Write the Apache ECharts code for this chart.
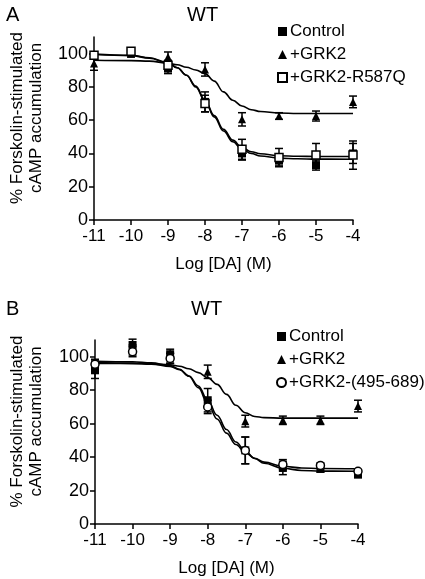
<!DOCTYPE html>
<html><head><meta charset="utf-8">
<script src="https://cdn.jsdelivr.net/npm/echarts@6/dist/echarts.min.js"></script>
<style>html,body{margin:0;padding:0;background:#fff}#c{width:425px;height:579px}</style>
</head><body><div id="c"></div>
<script>
// ---------- data ----------
const xDoses = [-11, -10, -9, -8, -7, -6, -5, -4];
const yTicks = [0, 20, 40, 60, 80, 100];
const xTicks = [-11, -10, -9, -8, -7, -6, -5, -4];

// Panel A (WT)
const ctrlA = [99, 101, 91, 71, 40, 36, 33, 40];
const ctrlAErr = [2, 1.5, 3, 6, 4, 3, 3, 6];
const grkA = [94, 100, 98, 90.5, 60.5, 62.5, 62.5, 71];
const grkAErr = [4, 2, 3, 4, 4, 2, 3, 3.5];
const mutA = [99, 101.5, 93, 70, 42.5, 37.5, 39, 39];
const mutAErr = [2, 1.5, 3, 5, 6, 5.5, 7, 8.5];

// Panel B (WT)
const ctrlB = [92, 107, 101.5, 74, 44, 33.5, 33, 29.5];
const ctrlBErr = [5, 3.5, 3, 7, 8, 4, 2, 1];
const grkB = [94, 104, 99, 91, 61.5, 62, 62, 70.5];
const grkBErr = [4, 3, 3, 4, 3.5, 2.5, 2.5, 3.5];
const circB = [95.5, 103, 99, 70, 44, 35.5, 35, 31.5];
const circBErr = [3, 3, 3, 4, 8, 3, 1.5, 1];

// Fitted curves
const xFit = [-11, -10, -9.5, -9, -8.75, -8.5, -8.25, -8, -7.75, -7.5, -7.25, -7, -6.75, -6.5, -6, -5.5, -5, -4];
const ctrlFitA = [99.8, 99, 97.5, 94.5, 91.5, 87, 80, 71.5, 62, 53.5, 47, 42.5, 40, 38.5, 37.2, 36.8, 36.6, 36.5];
const mutFitA  = [99.5, 98.8, 97.3, 94.3, 91.5, 87, 80.5, 72, 62.8, 54.5, 48, 43.5, 41, 39.8, 38.6, 38.3, 38.2, 38.2];
const grkFitA  = [96, 95.8, 95.5, 94.3, 93.3, 91.8, 90.2, 88, 83.5, 77, 72, 68.5, 66.3, 65.2, 64.3, 64, 64, 64];
const ctrlFitB = [96.5, 96.2, 95.6, 94.2, 92.2, 88.5, 82.5, 74, 65, 56.5, 49, 43.5, 39.2, 36.3, 33.3, 32, 31.6, 31.5];
const circFitB = [97.3, 97, 96.3, 94.8, 92.5, 88.3, 81.5, 72, 62.8, 54.3, 47.5, 42.8, 39.3, 37, 34.5, 33.5, 33.2, 33];
const grkFitB  = [96, 95.9, 95.7, 95.2, 94.3, 92.8, 90.5, 87.5, 83.5, 77.5, 71, 66.5, 64.3, 63.6, 63.3, 63.3, 63.3, 63.3];

const legendA = ['Control', '+GRK2', '+GRK2-R587Q'];
const legendB = ['Control', '+GRK2', '+GRK2-(495-689)'];
const yName = '% Forskolin-stimulated\ncAMP accumulation';
const xName = 'Log [DA] (M)';

// ---------- build ----------
const FONT = 'Liberation Sans, Arial, Helvetica, sans-serif';
const pts = (ys) => xDoses.map((x, i) => [x, ys[i]]);
const fit = (ys) => xFit.map((x, i) => [x, ys[i]]);
const errs = (ys, es) => xDoses.map((x, i) => [x, ys[i] - es[i], ys[i] + es[i]]);

function renderErr(params, api) {
  const x = api.value(0);
  const p1 = api.coord([x, api.value(1)]);
  const p2 = api.coord([x, api.value(2)]);
  const w = 4;
  const st = { stroke: '#000', lineWidth: 1.5 };
  return { type: 'group', children: [
    { type: 'line', shape: { x1: p1[0], y1: p1[1], x2: p2[0], y2: p2[1] }, style: st },
    { type: 'line', shape: { x1: p1[0] - w, y1: p1[1], x2: p1[0] + w, y2: p1[1] }, style: st },
    { type: 'line', shape: { x1: p2[0] - w, y1: p2[1], x2: p2[0] + w, y2: p2[1] }, style: st }
  ]};
}

function xAxis(gi) {
  return {
    type: 'value', gridIndex: gi, min: -11, max: -4, interval: 1,
    name: xName, nameLocation: 'middle', nameGap: 36,
    nameTextStyle: { fontFamily: FONT, fontSize: 17, color: '#000' },
    axisLine: { onZero: false, lineStyle: { color: '#000', width: 1.5 } },
    axisTick: { length: 5, lineStyle: { color: '#000', width: 1.5 } },
    axisLabel: { fontFamily: FONT, fontSize: 17, color: '#000', margin: 8 },
    splitLine: { show: false }
  };
}
function yAxis(gi, gap) {
  return {
    type: 'value', gridIndex: gi, min: 0, max: 110,
    name: yName, nameLocation: 'middle', nameGap: gap,
    nameTextStyle: { fontFamily: FONT, fontSize: 17, color: '#000', lineHeight: 19, padding: [0, 0, 0, 21] },
    axisLine: { onZero: false, lineStyle: { color: '#000', width: 1.5 } },
    axisTick: { length: 5, customValues: yTicks, lineStyle: { color: '#000', width: 1.5 } },
    axisLabel: { fontFamily: FONT, fontSize: 18, color: '#000', margin: 6, customValues: yTicks },
    splitLine: { show: false }
  };
}

function scatter(name, gi, ys, symbol, filled) {
  return {
    type: 'scatter', name, xAxisIndex: gi, yAxisIndex: gi, data: pts(ys),
    symbol, symbolSize: 8, z: 5,
    itemStyle: filled ? { color: '#000', opacity: 1 } : { color: '#fff', borderColor: '#000', borderWidth: 1.5, opacity: 1 }
  };
}
function errSeries(gi, ys, es) {
  return { type: 'custom', xAxisIndex: gi, yAxisIndex: gi, data: errs(ys, es), renderItem: renderErr, z: 3, silent: true };
}
function curve(gi, ys) {
  return {
    type: 'line', xAxisIndex: gi, yAxisIndex: gi, data: fit(ys), smooth: 0.4, smoothMonotone: 'x',
    showSymbol: false, z: 2, lineStyle: { color: '#000', width: 1.6 }, silent: true
  };
}

const legendCommon = {
  orient: 'vertical', itemGap: 6, itemWidth: 9, itemHeight: 9,
  textStyle: { fontFamily: FONT, fontSize: 17, color: '#000', padding: [0, 0, 0, -2] },
  selectedMode: false
};

const option = {
  animation: false,
  backgroundColor: '#fff',
  title: [
    { text: 'A', left: 1, top: 0, textStyle: { fontFamily: FONT, fontSize: 20, fontWeight: 'normal', color: '#000' } },
    { text: 'WT', left: 182, top: 0, textStyle: { fontFamily: FONT, fontSize: 20, fontWeight: 'normal', color: '#000' } },
    { text: 'B', left: 1, top: 294, textStyle: { fontFamily: FONT, fontSize: 20, fontWeight: 'normal', color: '#000' } },
    { text: 'WT', left: 186, top: 294, textStyle: { fontFamily: FONT, fontSize: 20, fontWeight: 'normal', color: '#000' } }
  ],
  legend: [
    Object.assign({ data: legendA, left: 272, top: 18 }, legendCommon),
    Object.assign({ data: legendB, left: 271, top: 323 }, legendCommon)
  ],
  grid: [
    { left: 79, top: 37, width: 274, height: 183 },
    { left: 83, top: 340, width: 275, height: 184 }
  ],
  xAxis: [xAxis(0), xAxis(1)],
  yAxis: [yAxis(0, 48), yAxis(1, 49)],
  series: [
    curve(0, ctrlFitA), curve(0, mutFitA), curve(0, grkFitA),
    errSeries(0, ctrlA, ctrlAErr), errSeries(0, grkA, grkAErr), errSeries(0, mutA, mutAErr),
    scatter('Control', 0, ctrlA, 'rect', true),
    scatter('+GRK2', 0, grkA, 'triangle', true),
    scatter('+GRK2-R587Q', 0, mutA, 'rect', false),

    curve(1, ctrlFitB), curve(1, circFitB), curve(1, grkFitB),
    errSeries(1, ctrlB, ctrlBErr), errSeries(1, grkB, grkBErr), errSeries(1, circB, circBErr),
    scatter('Control', 1, ctrlB, 'rect', true),
    scatter('+GRK2', 1, grkB, 'triangle', true),
    scatter('+GRK2-(495-689)', 1, circB, 'circle', false)
  ]
};

const chart = echarts.init(document.getElementById('c'), null, { renderer: 'canvas' });
chart.setOption(option);
</script>
</body></html>
